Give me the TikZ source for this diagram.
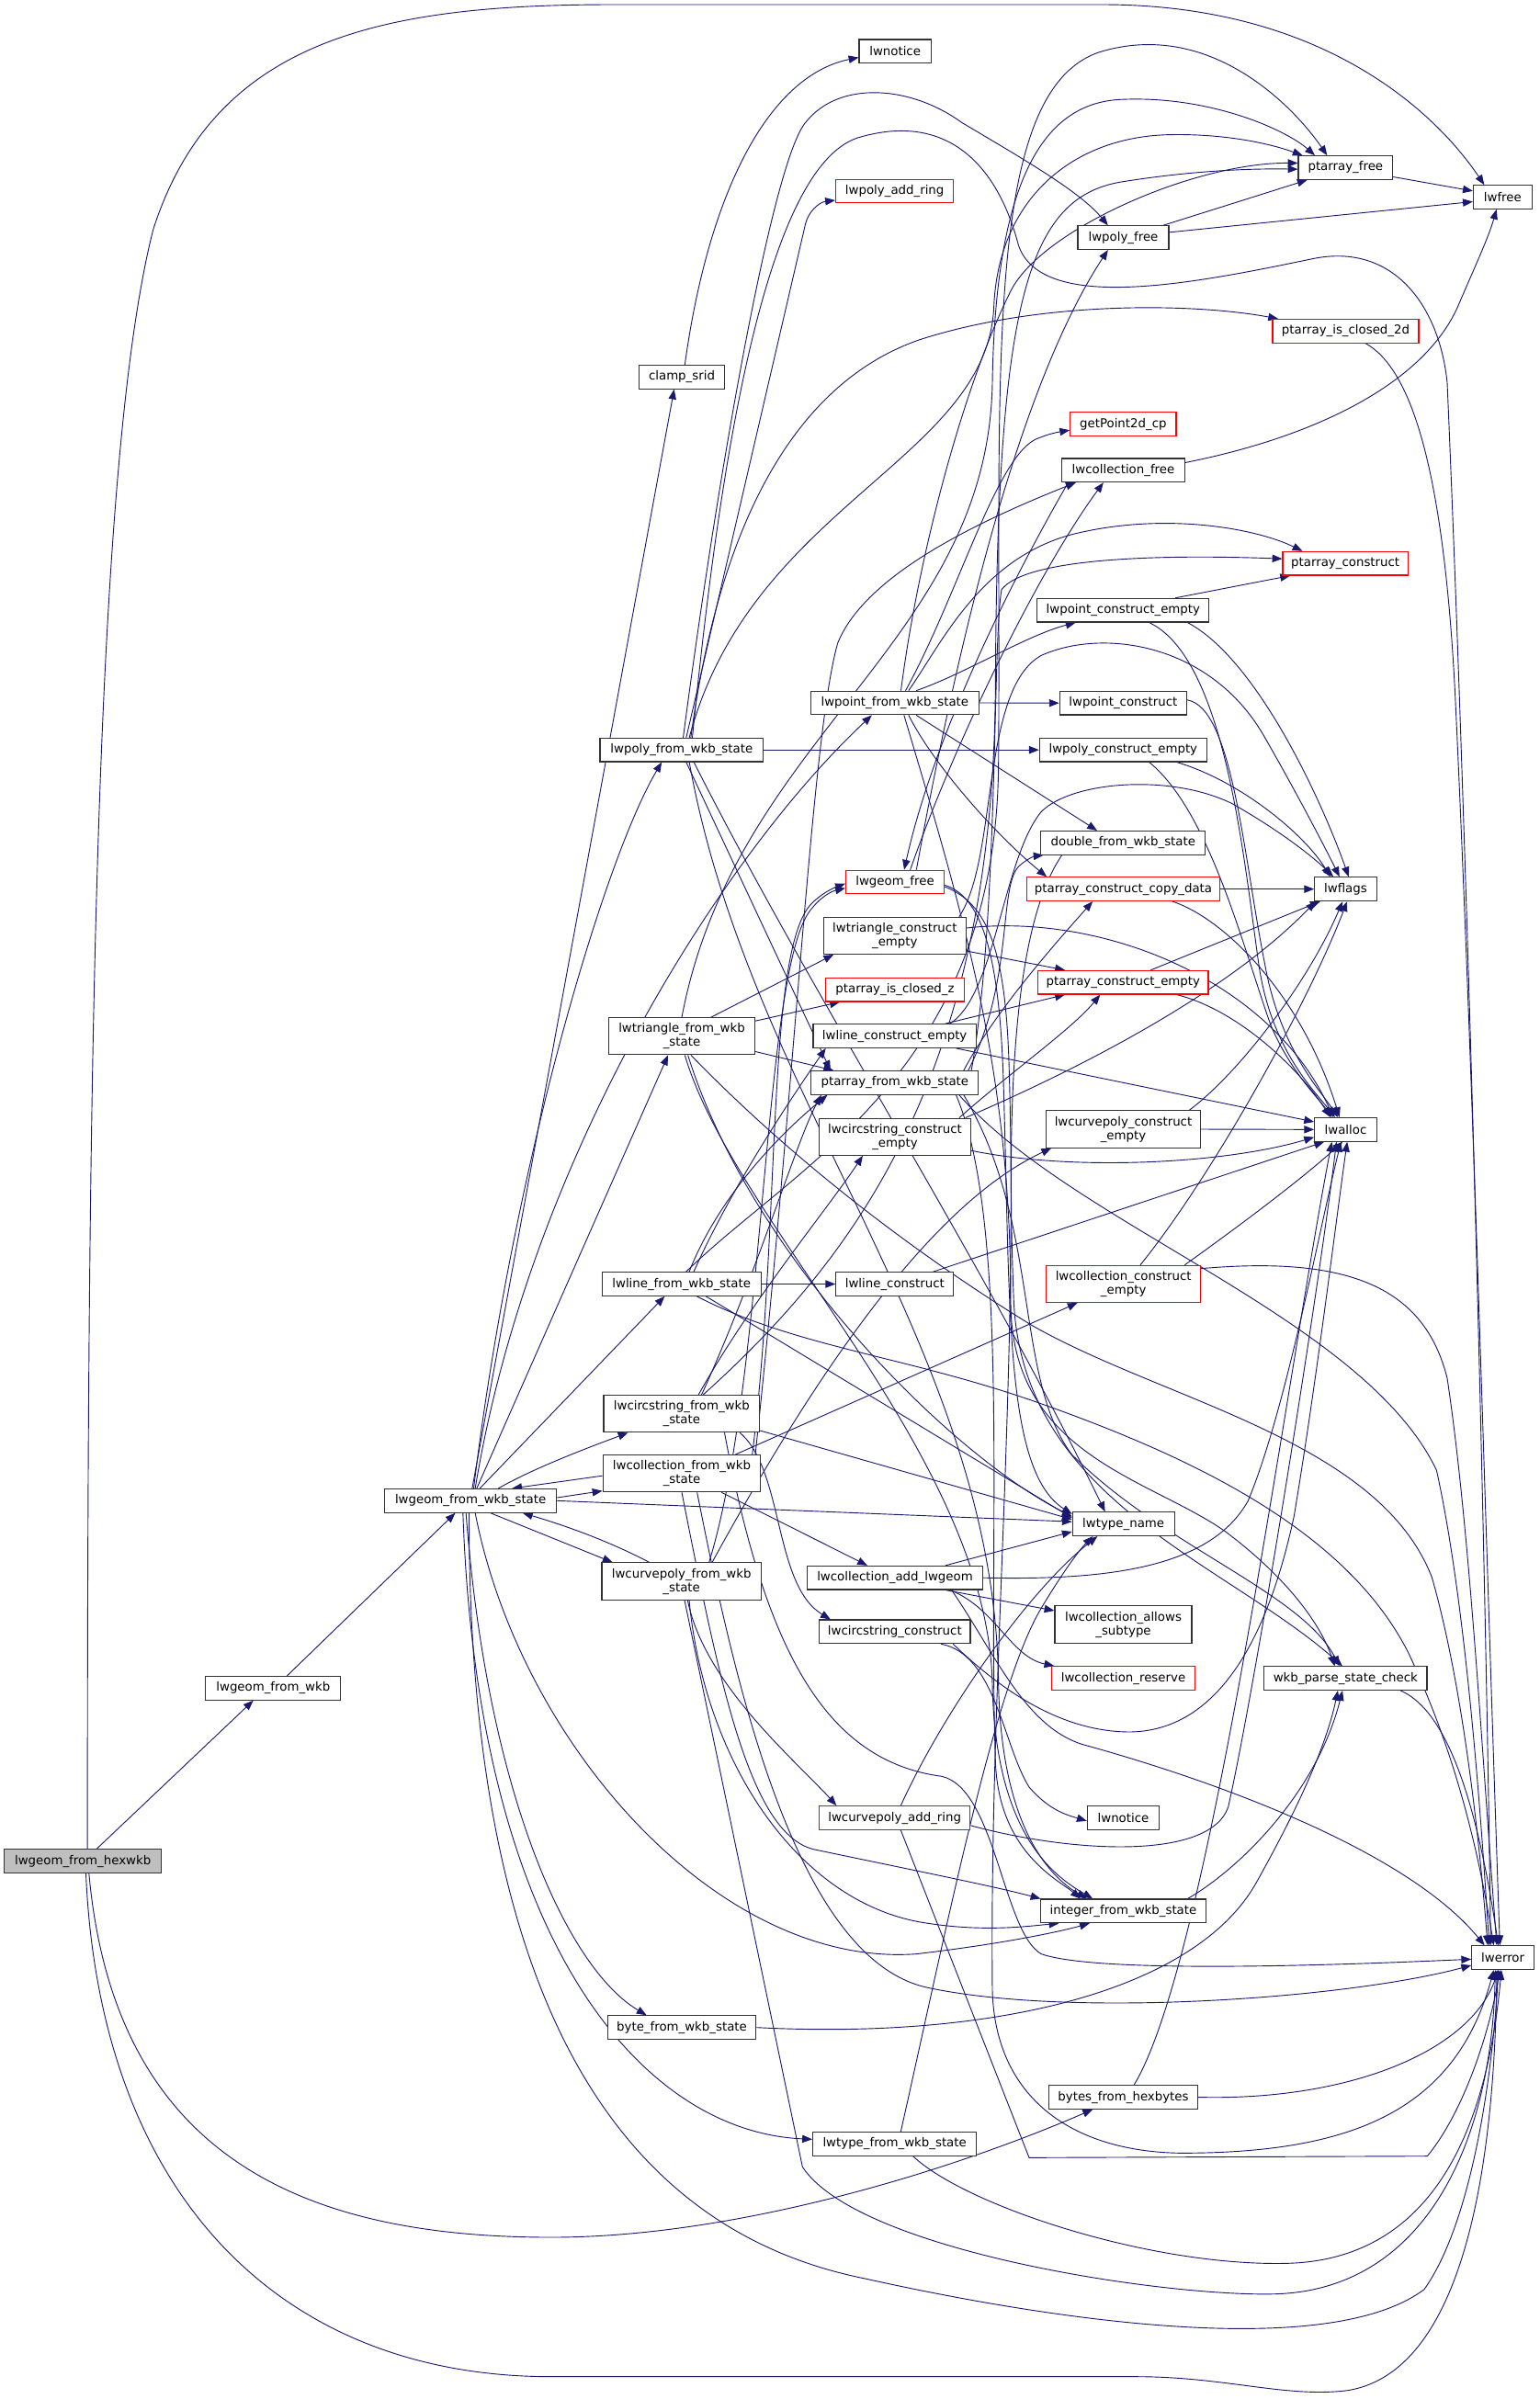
\documentclass[tikz,border=0pt]{standalone}
\usepackage{fontspec}
\setmainfont{DejaVu Sans}
\usetikzlibrary{arrows.meta}
\definecolor{edgec}{RGB}{25,25,112}
\definecolor{bord}{RGB}{50,50,50}
\pgfdeclarelayer{edgelayer}
\pgfsetlayers{edgelayer,main}
\newcommand{\nd}[7]{\node[#7,minimum width=#4pt,minimum height=#5pt] (#1) at (#2,#3) {#6};}
\tikzset{
 bx/.style={draw=bord, fill=white, line width=0.65pt, inner sep=0pt, align=center, font=\fontsize{8}{9}\selectfont},
 rbx/.style={bx, draw=red},
 rootbx/.style={bx, fill=gray!50},
 e/.style={draw=edgec, line width=0.55pt, -{Triangle[length=6.5pt,width=5pt]}},
}
\begin{document}
\begin{tikzpicture}[x=1pt,y=-1pt]
\useasboundingbox (0,0) rectangle (1005,1566.6);
\nd{hexwkb}{54.1}{1215.4}{102.6}{15.4}{lwgeom\_from\_hexwkb}{rootbx}
\nd{fromwkb}{178.4}{1102.4}{88.2}{15.4}{lwgeom\_from\_wkb}{bx}
\nd{state}{307.3}{980}{112.3}{15.4}{lwgeom\_from\_wkb\_state}{bx}
\nd{clamp}{445.2}{246.2}{56.3}{15.4}{clamp\_srid}{bx}
\nd{polyst}{445.1}{489.7}{106.6}{15.4}{lwpoly\_from\_wkb\_state}{bx}
\nd{trist}{445.2}{676.7}{95.6}{24.1}{lwtriangle\_from\_wkb\\\_state}{bx}
\nd{linest}{445}{838.5}{103.9}{15.4}{lwline\_from\_wkb\_state}{bx}
\nd{circst}{445.1}{923.2}{101.8}{24.1}{lwcircstring\_from\_wkb\\\_state}{bx}
\nd{collst}{445.2}{962.2}{103.1}{24.1}{lwcollection\_from\_wkb\\\_state}{bx}
\nd{cpst}{445}{1032.6}{104}{24.1}{lwcurvepoly\_from\_wkb\\\_state}{bx}
\nd{bytest}{445.2}{1324}{97.1}{15.4}{byte\_from\_wkb\_state}{bx}
\nd{notice1}{584.5}{33.5}{47}{15.4}{lwnotice}{bx}
\nd{addring}{584.2}{124.8}{77}{15.4}{lwpoly\_add\_ring}{rbx}
\nd{pointst}{584.3}{459}{109.8}{15.4}{lwpoint\_from\_wkb\_state}{bx}
\nd{geomfree}{584.4}{576}{64.2}{15.4}{lwgeom\_free}{rbx}
\nd{triempty}{584.3}{611}{92.9}{24.1}{lwtriangle\_construct\\\_empty}{bx}
\nd{closedz}{584.4}{646.3}{90.5}{15.4}{ptarray\_is\_closed\_z}{rbx}
\nd{lineempty}{584.2}{676.5}{106.4}{15.4}{lwline\_construct\_empty}{bx}
\nd{ptfromst}{584.3}{707}{109.1}{15.4}{ptarray\_from\_wkb\_state}{bx}
\nd{circempty}{584.4}{742.3}{98.5}{24.1}{lwcircstring\_construct\\\_empty}{bx}
\nd{lineconst}{584.3}{838.5}{76.9}{15.4}{lwline\_construct}{bx}
\nd{addgeom}{584.4}{1030.3}{114.1}{15.4}{lwcollection\_add\_lwgeom}{bx}
\nd{circconst}{584.3}{1065.5}{98.6}{15.4}{lwcircstring\_construct}{bx}
\nd{cpaddring}{584.2}{1187.1}{98.7}{15.4}{lwcurvepoly\_add\_ring}{rbx}
\nd{typest}{584.2}{1400}{107}{15.4}{lwtype\_from\_wkb\_state}{bx}
\nd{polyfree}{733.5}{155.2}{59.4}{15.4}{lwpoly\_free}{bx}
\nd{getpt}{733.4}{276.9}{69.2}{15.4}{getPoint2d\_cp}{rbx}
\nd{collfree}{733.5}{307.1}{80.2}{15.4}{lwcollection\_free}{bx}
\nd{ptempty}{733.4}{398.5}{112.2}{15.4}{lwpoint\_construct\_empty}{bx}
\nd{ptconst}{733.4}{459.1}{83}{15.4}{lwpoint\_construct}{bx}
\nd{polyempty}{733.4}{489.7}{109.2}{15.4}{lwpoly\_construct\_empty}{bx}
\nd{double}{733.4}{550.4}{107.4}{15.4}{double\_from\_wkb\_state}{bx}
\nd{copydata}{733.5}{580.6}{126.5}{15.4}{ptarray\_construct\_copy\_data}{rbx}
\nd{paempty}{733.4}{641.5}{111.2}{15.4}{ptarray\_construct\_empty}{rbx}
\nd{cpempty}{733.5}{737.4}{100.7}{24.1}{lwcurvepoly\_construct\\\_empty}{bx}
\nd{collempty}{733.6}{838.4}{100.5}{24.1}{lwcollection\_construct\\\_empty}{rbx}
\nd{typename}{733.6}{995.2}{66.5}{15.4}{lwtype\_name}{bx}
\nd{allows}{733.5}{1060.8}{89.4}{24.1}{lwcollection\_allows\\\_subtype}{bx}
\nd{reserve}{733.5}{1095.9}{93.5}{15.4}{lwcollection\_reserve}{rbx}
\nd{notice2}{733.5}{1187.1}{47}{15.4}{lwnotice}{bx}
\nd{intst}{733.5}{1247.9}{107.8}{15.4}{integer\_from\_wkb\_state}{bx}
\nd{hexbytes}{733.5}{1369.5}{97}{15.4}{bytes\_from\_hexbytes}{bx}
\nd{pafree}{878.6}{109.5}{61.6}{15.4}{ptarray\_free}{bx}
\nd{lwfree}{981.2}{128.7}{38.3}{15.4}{lwfree}{bx}
\nd{closed2d}{878.7}{216.2}{95.4}{15.4}{ptarray\_is\_closed\_2d}{rbx}
\nd{paconst}{878.5}{367.9}{81.8}{15.4}{ptarray\_construct}{rbx}
\nd{lwflags}{878.7}{580.6}{40.6}{15.4}{lwflags}{bx}
\nd{lwalloc}{878.7}{737.6}{40.6}{15.4}{lwalloc}{bx}
\nd{check}{878.6}{1096}{106.4}{15.4}{wkb\_parse\_state\_check}{bx}
\nd{lwerror}{981.4}{1278.4}{40.7}{15.4}{lwerror}{bx}
\begin{pgfonlayer}{edgelayer}
\fill[white] (0,0) rectangle (1005,1566.6);
% hexwkb
\draw[e] ([xshift=3pt]hexwkb.north) .. controls (57,700) and (62,300) .. (100,150) .. controls (140,25) and (250,3) .. (400,3) -- (720,3) .. controls (860,3) and (935,70) .. ([xshift=-12pt]lwfree.north);
\draw[e] ([xshift=9pt]hexwkb.north) -- ([xshift=-13pt]fromwkb.south);
\draw[e] ([xshift=4pt]hexwkb.south) .. controls (75,1410) and (200,1461) .. (360,1461) .. controls (480,1461) and (620,1418) .. ([xshift=-20pt]hexbytes.south);
\draw[e] ([xshift=2pt]hexwkb.south) .. controls (65,1430) and (180,1552) .. (360,1552) -- (742,1552) .. controls (800,1552) and (840,1566) .. (880,1561) .. controls (960,1548) and (976,1400) .. ([xshift=-4pt]lwerror.south);
\draw[e] ([xshift=9pt]fromwkb.north) -- ([xshift=-10pt]state.south);
% state
\draw[e] ([xshift=1pt]state.north) -- ([xshift=-5pt]clamp.south);
\draw[e] ([xshift=2pt]state.north) .. controls (335,760) and (395,560) .. ([xshift=-13pt]polyst.south);
\draw[e] ([xshift=3pt]state.north) .. controls (345,760) and (470,560) .. ([xshift=-15pt]pointst.south);
\draw[e] ([xshift=4pt]state.north) -- ([xshift=-9pt]trist.south);
\draw[e] ([xshift=6pt]state.north) -- ([xshift=-11pt]linest.south);
\draw[e] ([xshift=18pt]state.north) .. controls (350,958) and (385,945) .. ([xshift=-35pt]circst.south);
\draw[e] ([yshift=2pt]state.east) -- ([yshift=1pt]collst.south west);
\draw[e] ([yshift=-1.5pt]collst.west) -- ([xshift=27pt]state.north);
\draw[e] ([xshift=13pt]state.south) -- ([xshift=-45pt]cpst.north);
\draw[e] ([xshift=-21pt]cpst.north) .. controls (395,1005) and (365,995) .. ([xshift=34pt]state.south);
\draw[e] ([xshift=-3pt]state.south) .. controls (318,1170) and (370,1285) .. ([xshift=-23pt]bytest.north);
\draw[e] ([xshift=-5pt]state.south) .. controls (312,1270) and (420,1392) .. ([yshift=3pt]typest.west);
\draw[e] ([xshift=3pt]state.south) .. controls (340,1140) and (470,1285) .. (598,1276) .. controls (650,1270) and (690,1262) .. ([xshift=-22pt]intst.south);
\draw[e] (state.east) -- ([yshift=1.5pt]typename.west);
\draw[e] ([xshift=-1pt]state.south) .. controls (306,1300) and (400,1455) .. (565,1488) .. controls (700,1518) and (870,1540) .. (930,1495) .. controls (962,1450) and (975,1350) .. ([xshift=-3pt]lwerror.south);
\draw[e] ([xshift=2pt]clamp.north) .. controls (462,130) and (500,50) .. ([yshift=-4pt]notice1.west);
% polyst
\draw[e] (polyst.east) -- (polyempty.west);
\draw[e] ([xshift=3pt]polyst.north) -- (526,146) .. controls (528,138) and (535,132) .. ([yshift=-6pt]addring.west);
\draw[e] ([xshift=1pt]polyst.north) .. controls (470,300) and (505,105) .. (526,80) .. controls (548,52) and (595,56) .. (628,80) .. controls (670,105) and (705,125) .. ([xshift=-10pt]polyfree.north);
\draw[e] ([xshift=5pt]polyst.north) .. controls (490,330) and (645,300) .. (649,200) .. controls (652,130) and (700,90) .. (762,88) .. controls (800,87) and (830,94) .. ([xshift=-28pt]pafree.north);
\draw[e] ([xshift=6pt]polyst.north) .. controls (470,340) and (520,250) .. (600,222) .. controls (680,196) and (780,198) .. ([xshift=4pt]closed2d.north west);
\draw[e] ([xshift=3pt]polyst.south) -- ([xshift=-42pt]ptfromst.north);
\draw[e] ([xshift=5pt]polyst.south) .. controls (490,720) and (650,880) .. (652,1100) .. controls (654,1200) and (690,1228) .. ([xshift=-24pt]intst.north);
\draw[e] ([xshift=8pt]polyst.south) .. controls (530,650) and (640,820) .. ([xshift=-12pt]typename.north);
\draw[e] ([xshift=7pt]polyst.north) .. controls (470,300) and (500,110) .. (560,90) .. controls (620,72) and (652,110) .. (665,160) .. controls (680,205) and (780,185) .. (857,169) .. controls (910,158) and (940,200) .. (945,250) .. controls (958,550) and (970,1000) .. ([xshift=-8pt]lwerror.north);
% trist
\draw[e] ([xshift=19pt]trist.north) -- ([xshift=-40pt]triempty.south);
\draw[e] ([yshift=10pt]trist.east) -- ([xshift=-36pt]closedz.south);
\draw[e] ([yshift=-10pt]trist.east) -- ([xshift=-40pt]ptfromst.north);
\draw[e] (trist.north) .. controls (480,480) and (645,420) .. (648,250) .. controls (650,120) and (680,68) .. (731,65) .. controls (790,62) and (840,85) .. ([xshift=-20pt]pafree.north);
\draw[e] ([xshift=2pt]trist.south) .. controls (480,800) and (645,950) .. (648,1100) .. controls (650,1200) and (690,1226) .. ([xshift=-20pt]intst.north);
\draw[e] ([xshift=4pt]trist.south) .. controls (490,820) and (620,950) .. ([yshift=5pt]typename.west);
\draw[e] ([xshift=6pt]trist.south) .. controls (520,760) and (600,820) .. (673,865) .. controls (760,915) and (900,940) .. (935,1030) .. controls (955,1100) and (966,1200) .. ([xshift=-10pt]lwerror.north);
% linest
\draw[e] (linest.east) -- (lineconst.west);
\draw[e] ([xshift=5pt]linest.north) .. controls (470,780) and (510,740) .. ([xshift=-44pt]ptfromst.south);
\draw[e] ([xshift=8pt]linest.north) .. controls (480,770) and (525,705) .. ([xshift=-45pt]lineempty.south);
\draw[e] ([xshift=3pt]linest.north) .. controls (520,760) and (650,700) .. (652,500) .. controls (654,250) and (640,60) .. (718,34) .. controls (790,12) and (845,70) .. ([xshift=-12pt]pafree.north);
\draw[e] ([xshift=16pt]linest.south) -- ([yshift=4pt]typename.west);
\draw[e] ([xshift=10pt]linest.south) .. controls (520,880) and (590,885) .. (678,916) .. controls (780,952) and (880,1000) .. (920,1080) .. controls (948,1140) and (964,1200) .. ([xshift=-6pt]lwerror.north);
% circst
\draw[e] ([xshift=38pt]circst.south) .. controls (512,960) and (505,1035) .. ([xshift=-42pt]circconst.north);
\draw[e] ([xshift=11pt]circst.north) .. controls (490,850) and (540,790) .. ([xshift=-21pt]circempty.south);
\draw[e] ([xshift=13pt]circst.north) .. controls (495,830) and (520,745) .. ([xshift=-48pt]ptfromst.south);
\draw[e] ([xshift=14pt]circst.north) .. controls (560,820) and (648,700) .. (650,450) .. controls (651,200) and (670,130) .. (731,119) .. controls (780,111) and (820,110) .. ([yshift=-1pt]pafree.west);
\draw[e] ([yshift=-11pt]circst.east) -- ([yshift=3pt]typename.west);
\draw[e] ([xshift=28pt]circst.south) .. controls (500,1080) and (540,1150) .. (615,1160) .. controls (650,1168) and (655,1262) .. (680,1276) .. controls (720,1290) and (900,1282) .. ([yshift=-1pt]lwerror.west);
% collst
\draw[e] ([xshift=35pt]collst.north) -- ([xshift=-30pt]collempty.south);
\draw[e] ([xshift=48pt]collst.north) .. controls (520,700) and (530,480) .. (547,420) .. controls (565,375) and (640,340) .. ([xshift=-31pt]collfree.south);
\draw[e] ([xshift=46pt]collst.north) .. controls (510,800) and (500,620) .. (530,590) .. controls (537,583) and (544,580) .. ([yshift=-1pt]geomfree.west);
\draw[e] ([xshift=26pt]collst.south) -- ([xshift=-18pt]addgeom.north);
\draw[e] (collst.south) .. controls (470,1100) and (490,1200) .. (533,1208) .. controls (600,1222) and (650,1232) .. ([xshift=-54pt]intst.north);
\draw[e] ([xshift=10pt]collst.south) .. controls (480,1100) and (520,1280) .. (606,1298) .. controls (700,1318) and (880,1305) .. ([yshift=-5pt]lwerror.west);
% cpst
\draw[e] ([xshift=20pt]cpst.north) .. controls (520,920) and (600,790) .. ([xshift=-47pt]cpempty.south);
\draw[e] ([xshift=18pt]cpst.north) .. controls (500,900) and (498,640) .. (528,596) .. controls (535,586) and (543,582) .. ([yshift=-4pt]geomfree.west);
\draw[e] ([xshift=4pt]cpst.south) .. controls (460,1100) and (520,1150) .. ([xshift=-38pt]cpaddring.north);
\draw[e] ([xshift=5pt]cpst.south) .. controls (460,1150) and (520,1240) .. (600,1255) .. controls (640,1262) and (670,1258) .. ([xshift=-42pt]intst.south);
\draw[e] ([xshift=2pt]cpst.south) -- (524,1415) .. controls (560,1470) and (760,1500) .. (833,1498) .. controls (930,1495) and (974,1400) .. ([xshift=-5pt]lwerror.south);
\draw[e] (bytest.east) .. controls (650,1332) and (780,1300) .. (820,1230) .. controls (848,1180) and (866,1140) .. ([xshift=-5pt]check.south);
% pointst
\draw[e] (pointst.east) -- (ptconst.west);
\draw[e] ([xshift=14pt]pointst.north) .. controls (630,440) and (670,415) .. ([xshift=-31pt]ptempty.south);
\draw[e] ([xshift=14pt]pointst.south) -- ([xshift=-17pt]double.north);
\draw[e] ([xshift=9pt]pointst.south) .. controls (610,500) and (650,545) .. ([xshift=-50pt]copydata.north);
\draw[e] ([xshift=6pt]pointst.south) .. controls (630,600) and (660,700) .. (660,850) .. controls (660,950) and (750,965) .. (800,1000) .. controls (840,1030) and (862,1060) .. ([xshift=-7pt]check.north);
\draw[e] ([xshift=9pt]pointst.north) .. controls (615,420) and (640,365) .. (700,349) .. controls (760,334) and (820,345) .. ([xshift=-28pt]paconst.north);
\draw[e] ([xshift=7pt]pointst.north) .. controls (625,390) and (650,300) .. (676,287) .. controls (685,283) and (692,282) .. ([yshift=-4pt]getpt.west);
\draw[e] ([xshift=4pt]pointst.north) .. controls (600,360) and (630,250) .. (660,190) .. controls (680,150) and (780,106) .. ([yshift=3pt]pafree.west);
% ptfromst
\draw[e] ([xshift=45pt]ptfromst.north) .. controls (650,660) and (690,615) .. ([xshift=-20pt]copydata.south);
\draw[e] ([xshift=48pt]ptfromst.north) .. controls (662,640) and (652,580) .. (665,566) .. controls (670,561) and (676,559) .. ([xshift=2pt]double.south west);
\draw[e] ([xshift=50pt]ptfromst.north) .. controls (652,600) and (648,420) .. (654,385) .. controls (670,364) and (760,362) .. ([yshift=3pt]paconst.west);
\draw[e] ([xshift=45pt]ptfromst.south) .. controls (680,800) and (662,900) .. (700,950) .. controls (760,1010) and (850,1040) .. ([xshift=-4pt]check.north);
\draw[e] ([xshift=40pt]ptfromst.south) .. controls (660,800) and (645,1000) .. (650,1150) .. controls (652,1210) and (692,1228) .. ([xshift=-28pt]intst.north);
\draw[e] ([xshift=42pt]ptfromst.south) .. controls (700,800) and (890,860) .. (938,960) .. controls (958,1050) and (968,1200) .. ([xshift=-9pt]lwerror.north);
% geomfree, collfree, polyfree, pafree
\draw[e] ([xshift=10pt]geomfree.north) .. controls (625,480) and (680,370) .. ([xshift=-13pt]collfree.south);
\draw[e] ([xshift=-36pt]collfree.south) .. controls (660,380) and (610,480) .. ([xshift=6pt]geomfree.north);
\draw[e] ([xshift=14pt]geomfree.north) .. controls (620,450) and (660,260) .. ([xshift=-10pt]polyfree.south);
\draw[e] ([yshift=-2pt]geomfree.east) .. controls (640,585) and (652,620) .. (655,700) .. controls (660,850) and (655,960) .. ([yshift=6.5pt]typename.west);
\draw[e] ([yshift=-3pt]geomfree.east) .. controls (645,590) and (657,620) .. (659,700) .. controls (665,900) and (646,1100) .. (648,1300) .. controls (650,1370) and (700,1405) .. (771,1406) .. controls (880,1406) and (950,1380) .. ([xshift=-6pt]lwerror.south);
\draw[e] ([yshift=5pt]collfree.east) .. controls (860,285) and (930,250) .. (952,200) .. controls (964,172) and (972,155) .. ([xshift=-4pt]lwfree.south);
\draw[e] ([xshift=26pt]polyfree.north) -- ([xshift=-25pt]pafree.south);
\draw[e] ([yshift=3.5pt]polyfree.east) -- ([yshift=-3pt]lwfree.west);
\draw[e] ([yshift=-6pt]pafree.east) -- ([yshift=4pt]lwfree.west);
\draw[e] ([xshift=13pt]closed2d.south) .. controls (920,240) and (942,300) .. (950,450) .. controls (962,700) and (970,1000) .. ([xshift=-2pt]lwerror.north);
% constructors
\draw[e] ([yshift=-10pt]triempty.east) -- ([xshift=-38pt]paempty.north);
\draw[e] ([yshift=5pt]triempty.east) .. controls (720,596) and (830,640) .. ([xshift=-8pt]lwalloc.north);
\draw[e] ([xshift=42pt]triempty.north) .. controls (652,560) and (640,450) .. (680,428) .. controls (720,410) and (790,420) .. (825,480) .. controls (848,520) and (866,555) .. ([xshift=-4pt]lwflags.north);
\draw[e] ([xshift=33pt]lineempty.north) -- ([xshift=-38pt]paempty.south);
\draw[e] ([xshift=40pt]lineempty.south) -- ([yshift=5pt]lwalloc.west);
\draw[e] ([xshift=36pt]lineempty.north) .. controls (650,650) and (655,560) .. (680,530) .. controls (700,510) and (765,505) .. (805,525) .. controls (840,545) and (860,562) .. ([xshift=-8pt]lwflags.north);
\draw[e] ([xshift=42pt]circempty.north) .. controls (660,700) and (700,672) .. ([xshift=-15pt]paempty.south);
\draw[e] ([xshift=46pt]circempty.north) .. controls (700,700) and (800,650) .. ([xshift=1pt]lwflags.south west);
\draw[e] ([yshift=-9pt]circempty.east) .. controls (700,765) and (800,760) .. ([yshift=-5pt]lwalloc.west);
\draw[e] ([xshift=25pt]lineconst.north) -- ([xshift=-14pt]lwalloc.south);
\draw[e] ([xshift=33pt]addgeom.north) -- ([yshift=-5pt]typename.west);
\draw[e] (addgeom.east) .. controls (720,1032) and (790,1025) .. (815,980) .. controls (840,920) and (862,800) .. ([xshift=-3pt]lwalloc.south);
\draw[e] ([xshift=33pt]addgeom.south) -- ([yshift=9pt]allows.west);
\draw[e] ([xshift=36pt]addgeom.south) .. controls (650,1050) and (660,1082) .. ([xshift=2pt]reserve.north west);
\draw[e] ([xshift=37pt]addgeom.south) .. controls (650,1080) and (670,1130) .. (710,1140) .. controls (800,1165) and (920,1210) .. ([xshift=-12pt]lwerror.north);
\draw[e] ([xshift=30pt]circconst.south) .. controls (650,1080) and (655,1140) .. (672,1167) .. controls (685,1182) and (696,1185) .. ([yshift=-2pt]notice2.west);
\draw[e] ([xshift=38pt]circconst.south) .. controls (650,1100) and (690,1131) .. (738,1131) .. controls (800,1130) and (830,1060) .. (845,990) .. controls (860,900) and (872,800) .. ([xshift=1pt]lwalloc.south);
\draw[e] ([xshift=4pt]cpaddring.north) .. controls (615,1120) and (670,1040) .. ([xshift=-17pt]typename.south);
\draw[e] ([xshift=4pt]typest.north) .. controls (620,1250) and (650,1100) .. (680,1050) .. controls (695,1025) and (705,1012) .. ([xshift=-20pt]typename.south);
\draw[e] ([yshift=-5pt]cpaddring.east) .. controls (700,1210) and (790,1215) .. (802,1180) .. controls (820,1100) and (860,850) .. ([xshift=-6pt]lwalloc.south);
\draw[e] ([xshift=4pt]cpaddring.south) -- (672,1409) -- (932,1408) .. controls (955,1380) and (972,1330) .. ([xshift=-2pt]lwerror.south);
\draw[e] ([xshift=12pt]typest.south) .. controls (630,1440) and (750,1480) .. (840,1478) .. controls (930,1476) and (970,1400) .. ([xshift=-1pt]lwerror.south);
\draw[e] ([xshift=34pt]ptempty.north) -- ([xshift=-36pt]paconst.south);
\draw[e] ([xshift=42pt]ptempty.south) .. controls (820,430) and (862,520) .. ([xshift=2pt]lwflags.north);
\draw[e] ([xshift=17pt]ptempty.south) .. controls (800,430) and (812,560) .. (822,630) .. controls (830,685) and (858,712) .. ([xshift=-7pt]lwalloc.north);
\draw[e] ([yshift=2pt]ptconst.east) .. controls (805,462) and (812,560) .. (826,630) .. controls (836,685) and (862,712) .. ([xshift=-5pt]lwalloc.north);
\draw[e] ([xshift=35pt]polyempty.south) .. controls (810,510) and (852,545) .. ([xshift=-10pt]lwflags.north);
\draw[e] ([xshift=17pt]polyempty.south) .. controls (790,530) and (812,620) .. (830,670) .. controls (843,700) and (860,716) .. ([xshift=-9pt]lwalloc.north);
\draw[e] ([xshift=-40pt]double.south) .. controls (665,600) and (656,700) .. (662,850) .. controls (668,980) and (800,1020) .. ([xshift=-2pt]check.north);
\draw[e] ([xshift=42pt]intst.north) .. controls (810,1220) and (860,1170) .. ([xshift=-2pt]check.south);
\draw[e] ([xshift=36pt]check.south) .. controls (940,1115) and (962,1160) .. ([xshift=-3pt]lwerror.north);
\draw[e] (copydata.east) -- (lwflags.west);
\draw[e] ([xshift=32pt]copydata.south) .. controls (800,600) and (850,650) .. ([xshift=-4pt]lwalloc.north);
\draw[e] ([xshift=18pt]paempty.north) -- ([xshift=4pt]lwflags.south west);
\draw[e] ([xshift=35pt]paempty.south) .. controls (810,660) and (850,700) .. ([xshift=-10pt]lwalloc.north);
\draw[e] (cpempty.east) -- (lwalloc.west);
\draw[e] ([xshift=43pt]cpempty.north) .. controls (810,700) and (855,640) .. ([xshift=-2pt]lwflags.south);
\draw[e] ([xshift=11pt]collempty.north) .. controls (790,770) and (852,660) .. ([xshift=1pt]lwflags.south);
\draw[e] ([xshift=40pt]collempty.north) .. controls (810,800) and (850,770) .. ([xshift=-2pt]lwalloc.south);
\draw[e] ([yshift=10pt]collempty.east) .. controls (880,820) and (930,840) .. (945,900) .. controls (960,1000) and (968,1150) .. ([xshift=-4pt]lwerror.north);
\draw[e] ([xshift=7pt]hexbytes.north) .. controls (790,1280) and (840,900) .. ([xshift=-9pt]lwalloc.south);
\draw[e] (hexbytes.east) .. controls (880,1372) and (960,1340) .. ([xshift=-3pt]lwerror.south);
\end{pgfonlayer}
\end{tikzpicture}
\end{document}
